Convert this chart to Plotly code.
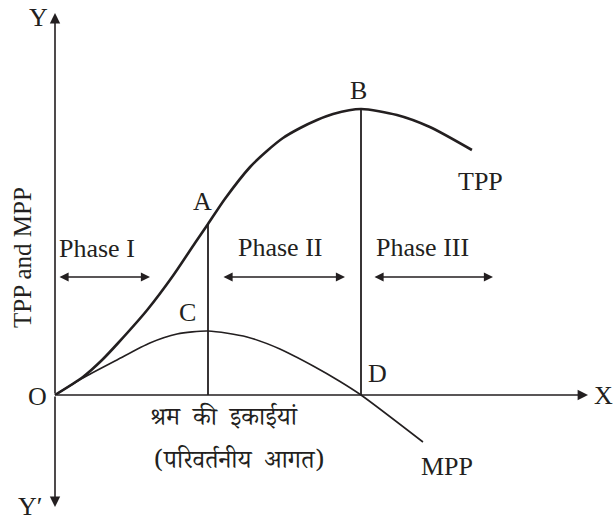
import plotly.graph_objects as go

# units of labour (x) and product (y)
tpp_x = [0, 0.73, 1.23, 1.65, 2.41, 3.08, 3.66, 4.0, 4.44, 5.1, 5.54, 5.96, 6.41, 6.85, 7.27, 8.0, 8.94, 9.8, 10.9]
tpp_y = [0, 1.8, 3.5, 5.2, 8.5, 11.9, 15.2, 17.1, 19.6, 22.8, 24.4, 25.7, 26.7, 27.5, 28.1, 28.6, 28.0, 26.8, 24.5]

mpp_x = [0, 0.73, 1.62, 2.48, 3.19, 4.0, 5.02, 5.88, 6.75, 7.43, 8.0, 9.62]
mpp_y = [0, 1.7, 3.5, 5.2, 6.1, 6.4, 5.8, 4.6, 2.9, 1.4, 0, -4.7]

idx_a = 7    # point A on TPP (C on MPP below it)
idx_b = 15   # point B on TPP (D on x axis)

W, H = 613, 520
X0, Y0 = 55, 395          # pixel position of origin O
SX, SY = 38.25, 10.0      # pixels per unit


def px(x, y):
    """pixel position -> paper coords"""
    return x / W, 1 - y / H


SERIF = "Liberation Serif, Times New Roman, serif"
HINDI = "Noto Serif Devanagari, Noto Sans Devanagari, Lohit Devanagari, FreeSerif, serif"
INK = '#231f20'

fig = go.Figure()

fig.add_trace(go.Scatter(x=tpp_x, y=tpp_y, mode='lines',
                         line=dict(color=INK, width=2.6, shape='spline', smoothing=0.7)))
fig.add_trace(go.Scatter(x=mpp_x, y=mpp_y, mode='lines',
                         line=dict(color=INK, width=1.6, shape='spline', smoothing=0.7)))

# drop lines from A and B to the x axis
for i in (idx_a, idx_b):
    fig.add_trace(go.Scatter(x=[tpp_x[i], tpp_x[i]], y=[tpp_y[i], 0], mode='lines',
                             line=dict(color=INK, width=1.8)))

annotations = []

# axes with arrows
arrow = dict(showarrow=True, arrowhead=2, arrowsize=1.3, arrowwidth=1.6, arrowcolor=INK,
             xref='x', yref='y', axref='x', ayref='y', text='', ax=0, ay=0)
annotations.append(dict(arrow, x=0, y=(Y0 - 13) / SY))
annotations.append(dict(arrow, x=0, y=(Y0 - 507) / SY))
annotations.append(dict(arrow, x=(588 - X0) / SX, y=0))

# phase arrows (double headed)
for x1, x2 in [(58, 150), (222, 345), (373, 493)]:
    annotations.append(dict(showarrow=True, arrowhead=2, arrowsize=1.4, arrowwidth=1.3,
                            arrowcolor=INK, arrowside='end+start', text='',
                            xref='x', yref='y', axref='x', ayref='y',
                            x=(x2 - X0) / SX, y=(Y0 - 277) / SY,
                            ax=(x1 - X0) / SX, ay=(Y0 - 277) / SY))

labels = [
    ('Y', 38, 18), ('Y′', 30, 506), ('O', 37, 396), ('X', 603, 395),
    ('A', 202, 202), ('B', 358, 90), ('C', 187, 312), ('D', 377, 373),
    ('TPP', 480, 181), ('MPP', 447, 466),
    ('Phase I', 97, 248), ('Phase II', 280, 247), ('Phase III', 422, 247),
]
for txt, lx, ly in labels:
    xp, yp = px(lx, ly)
    annotations.append(dict(text=txt, x=xp, y=yp, xref='paper', yref='paper',
                            showarrow=False, xanchor='center', yanchor='middle',
                            font=dict(family=SERIF, size=26, color=INK)))

xp, yp = px(22, 258)
annotations.append(dict(text='TPP and MPP', x=xp, y=yp, xref='paper', yref='paper',
                        showarrow=False, textangle=-90, xanchor='center', yanchor='middle',
                        font=dict(family=SERIF, size=25, color=INK)))

NB = '\u00a0'
hindi_lines = [('श्रम' + NB * 2 + 'की' + NB * 2 + 'इकाईयां', 224, 421),
               ('(परिवर्तनीय' + NB * 2 + 'आगत)', 239, 464)]
for txt, lx, ly in hindi_lines:
    xp, yp = px(lx, ly)
    annotations.append(dict(text=txt, x=xp, y=yp, xref='paper', yref='paper',
                            showarrow=False, xanchor='center', yanchor='middle',
                            font=dict(family=HINDI, size=25, color=INK)))

fig.update_layout(
    width=W, height=H,
    margin=dict(l=0, r=0, t=0, b=0),
    plot_bgcolor='white', paper_bgcolor='white',
    showlegend=False,
    hovermode=False,
    xaxis=dict(range=[-X0 / SX, (W - X0) / SX], visible=False, fixedrange=True),
    yaxis=dict(range=[(Y0 - H) / SY, Y0 / SY], visible=False, fixedrange=True),
    annotations=annotations,
)

# drop the default page margin so the figure fills the window exactly
fig.write_html("out.html", config={'displayModeBar': False},
               post_script="document.body.style.margin='0';document.body.style.overflow='hidden';")
